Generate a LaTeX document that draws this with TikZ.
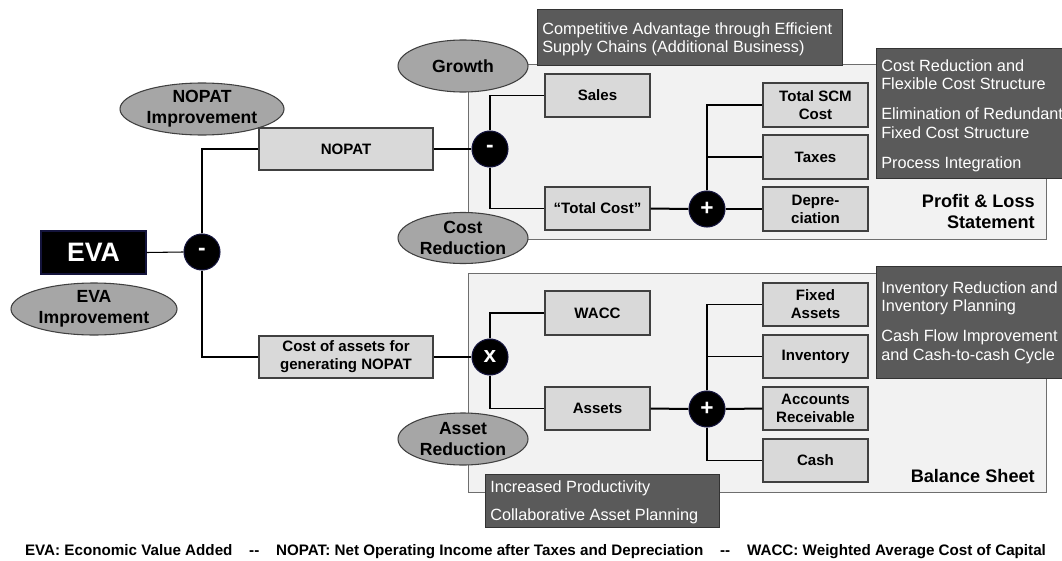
\documentclass[tikz,border=0pt]{standalone}
\usepackage{fontspec}
\setmainfont{Liberation Sans}
\usetikzlibrary{shapes.geometric}

\definecolor{panelfill}{HTML}{F2F2F2}
\definecolor{panelline}{HTML}{6E6E6E}
\definecolor{boxfill}{HTML}{D9D9D9}
\definecolor{boxline}{HTML}{404040}
\definecolor{ellfill}{HTML}{A6A6A6}
\definecolor{darkfill}{HTML}{5A5A5A}
\definecolor{navyline}{HTML}{14143C}

\begin{document}
\begin{tikzpicture}[x=0.75pt,y=-0.75pt,
  panel/.style={draw=panelline,fill=panelfill,line width=1.1pt},
  lbl/.style={draw=boxline,fill=boxfill,line width=0.8pt,minimum width=78.75pt,
    minimum height=32.25pt,inner sep=0pt,align=center,
    font=\fontsize{11.3}{13.5}\selectfont\bfseries},
  widebox/.style={lbl,minimum width=130.5pt,minimum height=31.5pt},
  ell/.style={ellipse,draw=boxline,fill=ellfill,line width=0.8pt,inner sep=0pt},
  elltext/.style={align=center,inner sep=0pt,font=\fontsize{13.2}{15.75}\selectfont\bfseries},
  op/.style={circle,fill=black,draw=navyline,line width=0.8pt,minimum size=27pt,inner sep=0pt,
    text=white,font=\fontsize{17}{17}\selectfont\bfseries},
  darkbox/.style={draw=black!80,fill=darkfill,line width=0.8pt,anchor=north west,inner sep=0pt},
  darktext/.style={anchor=north west,inner sep=0pt,align=left,text=white,
    font=\fontsize{12.2}{13.8}\selectfont},
  wire/.style={draw=black,line width=0.8pt},
  thickwire/.style={draw=black,line width=1.5pt},
  sheetlabel/.style={inner sep=0pt,align=right,font=\fontsize{13.6}{15.75}\selectfont\bfseries}
]
\useasboundingbox (0,0) rectangle (1062,560);

% statement panels
\node[panel,anchor=north west,minimum width=433.5pt,minimum height=131.25pt,inner sep=0pt] (pl) at (468,64) {};
\node[panel,anchor=north west,minimum width=433.5pt,minimum height=164.25pt,inner sep=0pt] (bs) at (468,273) {};

% dark comment boxes
\node[darkbox,minimum width=228.75pt,minimum height=42pt] (d1) at (537,9) {};
\node[darkbox,minimum width=139.5pt,minimum height=97.5pt] (d2) at (876,48) {};
\node[darkbox,minimum width=139.5pt,minimum height=84pt] (d3) at (876,266) {};
\node[darkbox,minimum width=175.5pt,minimum height=39.75pt] (d4) at (485,474) {};

\node[darktext] (d1t) at (542,22.3) {Competitive Advantage through Efficient\\Supply Chains (Additional Business)};
\node[darktext] (d2t) at (881,59.5) {Cost Reduction and\\Flexible Cost Structure\\[8.6pt]Elimination of Redundant\\Fixed Cost Structure\\[8.6pt]Process Integration};
\node[darktext] (d3t) at (881,281.5) {Inventory Reduction and\\Inventory Planning\\[8.6pt]Cash Flow Improvement\\and Cash-to-cash Cycle};
\node[darktext] (d4t) at (490,480.5) {Increased Productivity\\[7.5pt]Collaborative Asset Planning};

% lever ellipses
\node[ell,minimum width=123pt,minimum height=39pt,label={[elltext]center:NOPAT\\Improvement}] (nopatimp) at (202,109) {};
\node[ell,minimum width=124.5pt,minimum height=39pt,label={[elltext]center:EVA\\Improvement}] (evaimp) at (94,309) {};
\node[ell,minimum width=97.5pt,minimum height=39pt,label={[elltext]center:Growth}] (growth) at (463,66) {};
\node[ell,minimum width=97.5pt,minimum height=38.25pt,label={[elltext]center:Cost\\Reduction}] (costred) at (463,238) {};
\node[ell,minimum width=97.5pt,minimum height=39pt,label={[elltext]center:Asset\\Reduction}] (assetred) at (463,439) {};

% tree boxes
\node[draw=navyline,fill=black,line width=0.8pt,minimum width=78.75pt,minimum height=32.25pt,inner sep=0pt,
  text=white,font=\fontsize{20}{20}\selectfont\bfseries] (eva) at (93.5,252.5) {EVA};
\node[widebox] (nopat) at (346,149) {NOPAT};
\node[widebox] (cost) at (346,357) {Cost of assets for\\generating NOPAT};

\node[lbl] (sales) at (597.5,95.5) {Sales};
\node[lbl] (tcost) at (597.5,208.5) {“Total Cost”};
\node[lbl,minimum height=33pt] (scm) at (815.5,105) {Total SCM\\Cost};
\node[lbl,minimum height=33pt] (taxes) at (815.5,157) {Taxes};
\node[lbl,minimum height=33pt] (depr) at (815.5,209) {Depre-\\ciation};

\node[lbl,minimum height=33pt] (wacc) at (597.5,313) {WACC};
\node[lbl] (assets) at (597.5,408.5) {Assets};
\node[lbl] (fixed) at (815.5,304.5) {Fixed\\Assets};
\node[lbl] (inv) at (815.5,356.5) {Inventory};
\node[lbl] (ar) at (815.5,408.5) {Accounts\\Receivable};
\node[lbl] (cash) at (815.5,460.5) {Cash};

% operators
\node[op] (evaminus) at (202,252) {-};
\node[op] (plminus) at (490,149) {-};
\node[op] (plplus) at (707,209) {+};
\node[op] (bstimes) at (490,357) {x};
\node[op] (bsplus) at (707,409) {+};

% connectors
\path[wire] (eva.east) -- (evaminus.west);
\path[wire] (evaminus.north) |- (nopat.west);
\path[wire] (evaminus.south) |- (cost.west);
\path[wire] (nopat.east) -- (plminus.west);
\path[wire] (plminus.north) |- (sales.west);
\path[wire] (plminus.south) |- (tcost.west);
\path[thickwire] (tcost.east) -- (plplus.west);
\path[wire] (plplus.north) |- (scm.west);
\path[wire] (plplus.north) |- (taxes.west);
\path[wire] (plplus.east) -- (depr.west);
\path[wire] (cost.east) -- (bstimes.west);
\path[wire] (bstimes.north) |- (wacc.west);
\path[wire] (bstimes.south) |- (assets.west);
\path[thickwire] (assets.east) -- (bsplus.west);
\path[thickwire] (bsplus.east) -- (ar.west);
\path[wire] (bsplus.north) |- (fixed.west);
\path[wire] (bsplus.north) |- (inv.west);
\path[wire] (bsplus.south) |- (cash.west);

% panel titles
\node[sheetlabel,anchor=east] (pltitle) at (1035,212) {Profit \& Loss\\Statement};
\node[sheetlabel,anchor=base east] (bstitle) at (1035,482) {Balance Sheet};

% abbreviations
\node[inner sep=0pt,anchor=base,font=\fontsize{11.4}{12}\selectfont\bfseries] (legend) at (535.5,555)
  {EVA: Economic Value Added\hspace{1.1em}-{}-\hspace{1.1em}NOPAT: Net Operating Income after Taxes and Depreciation\hspace{1.1em}-{}-\hspace{1.1em}WACC: Weighted Average Cost of Capital};
\end{tikzpicture}
\end{document}
